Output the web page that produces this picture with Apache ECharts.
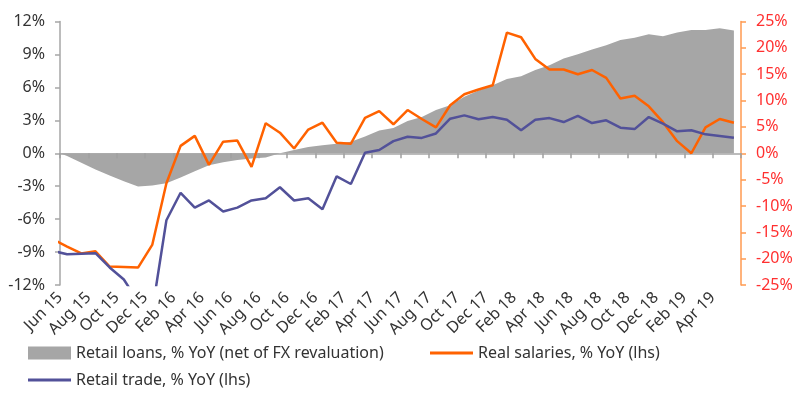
<!DOCTYPE html>
<html lang="en">
<head>
    <meta charset="UTF-8">
    <title>Retail loans, salaries and trade</title>
    <script src="https://cdn.jsdelivr.net/npm/echarts@6/dist/echarts.min.js"></script>
    <style>
        body { margin: 0; background: #fff; }
        #main { width: 800px; height: 417px; }
    </style>
</head>
<body>
    <div id="main"></div>
    <script>
        // monthly points, May 15 .. May 19 (May 15 sits just left of the axis and gets clipped)
        var months = ['May 15', 'Jun 15', 'Jul 15', 'Aug 15', 'Sep 15', 'Oct 15', 'Nov 15', 'Dec 15',
            'Jan 16', 'Feb 16', 'Mar 16', 'Apr 16', 'May 16', 'Jun 16', 'Jul 16', 'Aug 16', 'Sep 16', 'Oct 16', 'Nov 16', 'Dec 16',
            'Jan 17', 'Feb 17', 'Mar 17', 'Apr 17', 'May 17', 'Jun 17', 'Jul 17', 'Aug 17', 'Sep 17', 'Oct 17', 'Nov 17', 'Dec 17',
            'Jan 18', 'Feb 18', 'Mar 18', 'Apr 18', 'May 18', 'Jun 18', 'Jul 18', 'Aug 18', 'Sep 18', 'Oct 18', 'Nov 18', 'Dec 18',
            'Jan 19', 'Feb 19', 'Mar 19', 'Apr 19', 'May 19']
        var tickLabels = ['Jun 15', 'Aug 15', 'Oct 15', 'Dec 15', 'Feb 16', 'Apr 16', 'Jun 16', 'Aug 16', 'Oct 16', 'Dec 16',
            'Feb 17', 'Apr 17', 'Jun 17', 'Aug 17', 'Oct 17', 'Dec 17', 'Feb 18', 'Apr 18', 'Jun 18', 'Aug 18', 'Oct 18', 'Dec 18',
            'Feb 19', 'Apr 19']

        // retail loans, % YoY (rhs)
        var loans = [0.5, -0.5, -1.8, -3.1, -4.2, -5.3, -6.3, -6.1, -5.7, -4.6, -3.4, -2.3, -1.7, -1.3, -1.0, -0.8,
            0.0, 0.6, 1.2, 1.5, 1.8, 2.2, 3.2, 4.3, 4.8, 6.1, 6.9, 8.2, 9.1, 10.7, 11.9, 12.9,
            14.1, 14.6, 15.8, 16.7, 18.0, 18.8, 19.7, 20.5, 21.5, 21.9, 22.6, 22.2, 22.9, 23.4, 23.4, 23.7, 23.3]
        // real salaries, % YoY (rhs)
        var salaries = [-16.3, -17.7, -19.0, -18.6, -21.5, -21.6, -21.7, -17.4, -5.7, 1.4, 3.3, -2.2, 2.2, 2.4, -2.6, 5.7,
            3.9, 0.9, 4.5, 5.8, 2.0, 1.8, 6.7, 8.0, 5.5, 8.2, 6.5, 4.9, 9.1, 11.2, 12.1, 12.9,
            22.9, 22.0, 17.9, 15.9, 15.9, 15.0, 15.8, 14.3, 10.4, 10.9, 8.9, 5.9, 2.3, 0.0, 4.9, 6.5, 5.8]
        // retail trade, % YoY (lhs)
        var trade = [-8.9, -9.2, -9.15, -9.1, -10.4, -11.5, -13.5, -14.4, -6.1, -3.6, -4.95, -4.3, -5.3, -4.95, -4.3, -4.1,
            -3.1, -4.3, -4.1, -5.1, -2.1, -2.8, 0.05, 0.3, 1.1, 1.5, 1.4, 1.8, 3.15, 3.45, 3.1, 3.3,
            3.06, 2.1, 3.06, 3.2, 2.84, 3.4, 2.75, 3.0, 2.33, 2.2, 3.3, 2.7, 2.0, 2.1, 1.72, 1.57, 1.42]

        // month k is drawn at mid-month: Jun 15 spans 0..1 on the x scale
        function toPoints(arr) {
            return arr.map(function (v, i) { return [i - 0.5, v] })
        }

        var font = 'Noto Sans'
        var legendText = { fontSize: 16, color: '#333', fontFamily: font }
        var chart = echarts.init(document.getElementById('main'))
        var option = {
            animation: false,
            textStyle: { fontFamily: font },
            grid: { left: 60, right: 59, top: 21.5, bottom: 132, containLabel: false },
            legend: [{
                left: 23, top: 340, icon: 'rect', itemWidth: 43, itemHeight: 13,
                textStyle: legendText,
                data: ['Retail loans, % YoY (net of FX revaluation)']
            }, {
                left: 425, top: 340, icon: 'rect', itemWidth: 43, itemHeight: 3,
                textStyle: legendText,
                data: ['Real salaries, % YoY (lhs)']
            }, {
                left: 23, top: 367, icon: 'rect', itemWidth: 43, itemHeight: 3,
                textStyle: legendText,
                data: ['Retail trade, % YoY (lhs)']
            }],
            xAxis: [{
                // zero line with the 2-month ticks, drawn over the grey area
                type: 'value', min: 0, max: 48, interval: 2, z: 5,
                axisLine: { onZero: true, lineStyle: { color: '#a6a6a6', width: 1.5 } },
                axisTick: { show: true, length: 5, lineStyle: { color: '#a0a0a0', width: 1.5 } },
                axisLabel: { show: false },
                splitLine: { show: false }
            }, {
                // labels along the bottom
                type: 'value', min: 0, max: 48, interval: 2, position: 'bottom',
                axisLine: { show: false, onZero: false },
                axisTick: { show: false },
                splitLine: { show: false },
                axisLabel: {
                    rotate: 45, margin: 10, fontSize: 16, color: '#333', fontFamily: font,
                    formatter: function (v) { return tickLabels[v / 2] || '' }
                }
            }],
            yAxis: [{
                type: 'value', min: -12, max: 12, interval: 3, position: 'left',
                axisLine: { show: true, onZero: false, lineStyle: { color: '#a6a6a6', width: 1.5 } },
                axisTick: { show: true, length: 5, lineStyle: { color: '#a6a6a6', width: 1.5 } },
                axisLabel: { formatter: '{value}%', fontSize: 16, color: '#333', margin: 15, fontFamily: font },
                splitLine: { show: false }
            }, {
                type: 'value', min: -25, max: 25, interval: 5, position: 'right',
                axisLine: { show: true, onZero: false, lineStyle: { color: '#ff9a50', width: 1.5 } },
                axisTick: { show: true, length: 5, lineStyle: { color: '#ff9a50', width: 1.5 } },
                axisLabel: { formatter: '{value}%', fontSize: 16, color: '#ff3030', margin: 15, fontFamily: font },
                splitLine: { show: false }
            }],
            series: [{
                name: 'Retail loans, % YoY (net of FX revaluation)',
                type: 'line', yAxisIndex: 1, symbol: 'none', clip: true,
                lineStyle: { width: 0 },
                itemStyle: { color: '#a6a6a6' },
                areaStyle: { color: '#a6a6a6', opacity: 1, origin: 0 },
                data: toPoints(loans)
            }, {
                name: 'Real salaries, % YoY (lhs)',
                type: 'line', yAxisIndex: 1, symbol: 'none', clip: true, z: 6,
                lineStyle: { width: 2.5, color: '#ff6200' },
                itemStyle: { color: '#ff6200' },
                data: toPoints(salaries)
            }, {
                name: 'Retail trade, % YoY (lhs)',
                type: 'line', yAxisIndex: 0, symbol: 'none', clip: true, z: 7,
                lineStyle: { width: 2.5, color: '#525199' },
                itemStyle: { color: '#525199' },
                data: toPoints(trade)
            }]
        }
        chart.setOption(option)
    </script>
</body>
</html>
